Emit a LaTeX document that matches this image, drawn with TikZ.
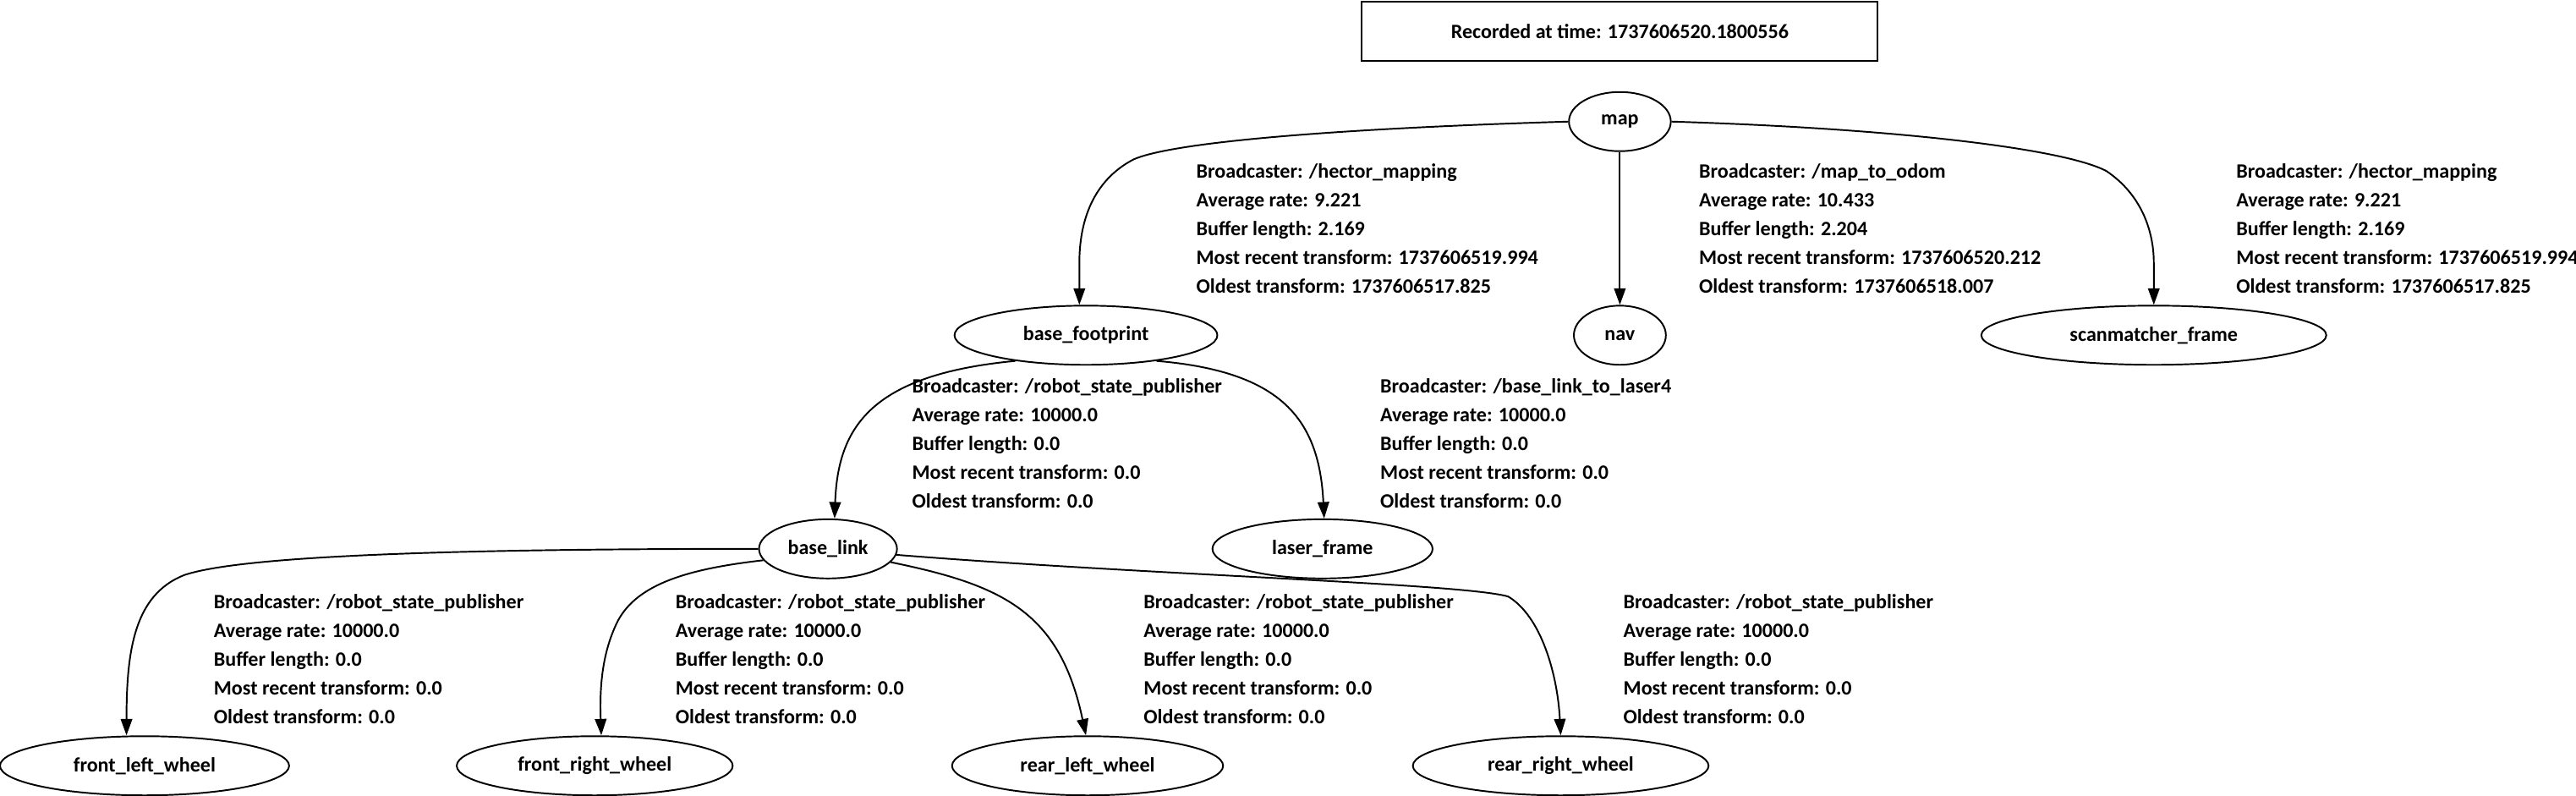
\documentclass[tikz,border=0pt]{standalone}
\usepackage{fontspec}
\setmainfont{Carlito}
\usetikzlibrary{shapes.geometric,arrows.meta,calc}
\begin{document}
\begin{tikzpicture}[x=1pt,y=-1pt,
  frame/.style={draw,ellipse,line width=1pt,minimum height=36pt,inner sep=0pt,font=\bfseries\fontsize{12.4}{15}\selectfont},
  lbl/.style={anchor=west,align=left,inner sep=0pt,font=\bfseries\fontsize{12.4}{17.5}\selectfont},
  arr/.style={line width=1pt,-{Triangle[length=10pt,width=7pt]}},
  every node/.append style={text=black}]
\useasboundingbox (0,0) rectangle (1568,484);
\node[draw,line width=1pt,minimum width=314pt,minimum height=36pt,inner sep=0pt,font=\bfseries\fontsize{12.4}{15}\selectfont] (title) at (986,19) {Recorded at time: 1737606520.1800556};

\node[frame,minimum width=62pt] (map) at (986,74) {map};
\node[frame,minimum width=160pt] (bf) at (661,204) {base\_footprint};
\node[frame,minimum width=56pt] (nav) at (986,204) {nav};
\node[frame,minimum width=210pt] (sm) at (1311,204) {scanmatcher\_frame};
\node[frame,minimum width=84pt] (bl) at (504,334) {base\_link};
\node[frame,minimum width=134pt] (lf) at (805,334) {laser\_frame};
\node[frame,minimum width=176pt] (flw) at (88,466) {front\_left\_wheel};
\node[frame,minimum width=168pt] (frw) at (362,466) {front\_right\_wheel};
\node[frame,minimum width=165pt] (rlw) at (662,466) {rear\_left\_wheel};
\node[frame,minimum width=180pt] (rrw) at (950,466) {rear\_right\_wheel};

\node[lbl] (l1) at (728,139) {Broadcaster: /hector\_mapping\\Average rate: 9.221\\Buffer length: 2.169\\Most recent transform: 1737606519.994\\Oldest transform: 1737606517.825};
\node[lbl] (l2) at (1034,139) {Broadcaster: /map\_to\_odom\\Average rate: 10.433\\Buffer length: 2.204\\Most recent transform: 1737606520.212\\Oldest transform: 1737606518.007};
\node[lbl] (l3) at (1361,139) {Broadcaster: /hector\_mapping\\Average rate: 9.221\\Buffer length: 2.169\\Most recent transform: 1737606519.994\\Oldest transform: 1737606517.825};
\node[lbl] (l4) at (555,270) {Broadcaster: /robot\_state\_publisher\\Average rate: 10000.0\\Buffer length: 0.0\\Most recent transform: 0.0\\Oldest transform: 0.0};
\node[lbl] (l5) at (840,270) {Broadcaster: /base\_link\_to\_laser4\\Average rate: 10000.0\\Buffer length: 0.0\\Most recent transform: 0.0\\Oldest transform: 0.0};
\node[lbl] (l6) at (130,401) {Broadcaster: /robot\_state\_publisher\\Average rate: 10000.0\\Buffer length: 0.0\\Most recent transform: 0.0\\Oldest transform: 0.0};
\node[lbl] (l7) at (411,401) {Broadcaster: /robot\_state\_publisher\\Average rate: 10000.0\\Buffer length: 0.0\\Most recent transform: 0.0\\Oldest transform: 0.0};
\node[lbl] (l8) at (696,401) {Broadcaster: /robot\_state\_publisher\\Average rate: 10000.0\\Buffer length: 0.0\\Most recent transform: 0.0\\Oldest transform: 0.0};
\node[lbl] (l9) at (988,401) {Broadcaster: /robot\_state\_publisher\\Average rate: 10000.0\\Buffer length: 0.0\\Most recent transform: 0.0\\Oldest transform: 0.0};

\draw[arr] (map.west) .. controls (820,78) and (715,86) .. (690,97) .. controls (665,110) and (657,135) .. (657,160) -- ($(bf.north)+(-4,0)$);
\draw[arr] (map.south) -- (nav.north);
\draw[arr] (map.east) .. controls (1150,78) and (1255,90) .. (1282,104) .. controls (1303,118) and (1311,140) .. (1311,160) -- (sm.north);
\draw[arr] (bf.200) .. controls (530,228) and (510,260) .. ($(bl.north)+(4,0)$);
\draw[arr] (bf.-20) .. controls (780,226) and (803,255) .. ($(lf.north)+(1,0)$);
\draw[arr] (bl.west) .. controls (300,334) and (150,337) .. (112,350) .. controls (82,362) and (77,395) .. ($(flw.north)+(-11,0)$);
\draw[arr] (bl.190) .. controls (420,346) and (388,355) .. (376,378) .. controls (366,398) and (365,420) .. ($(frw.north)+(4,0)$);
\draw[arr] (bl.-12) .. controls (610,356) and (645,372) .. ($(rlw.north)+(-1,0)$);
\draw[arr] (bl.-5) .. controls (700,350) and (890,355) .. (918,363) .. controls (938,375) and (948,410) .. (rrw.north);
\end{tikzpicture}
\end{document}
